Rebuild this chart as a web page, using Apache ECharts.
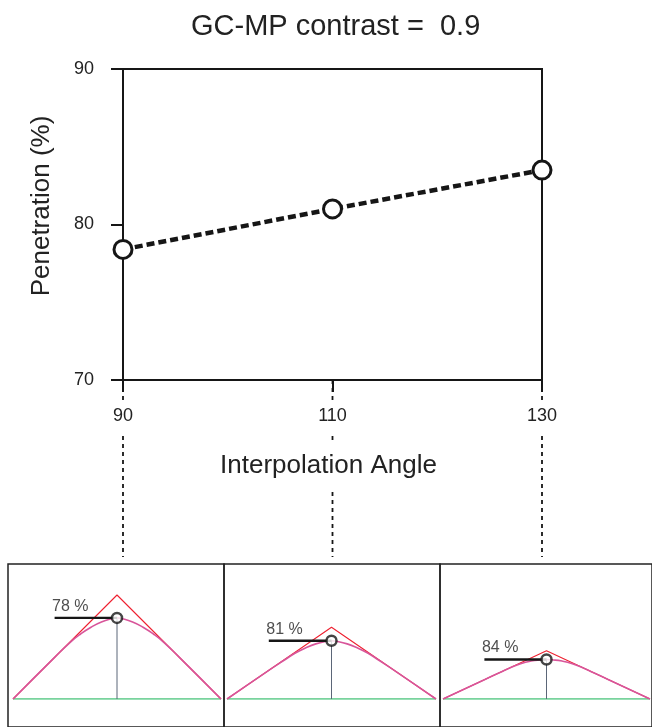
<!DOCTYPE html>
<html>
<head>
<meta charset="utf-8">
<script src="https://cdn.jsdelivr.net/npm/echarts@6/dist/echarts.min.js"></script>
<style>
html,body{margin:0;padding:0;background:#fff;}
#c{width:652px;height:727px;}
</style>
</head>
<body>
<div id="c"></div>
<script>
// ---- data ----
const titleText = 'GC-MP contrast =  0.9';
const angleLabels = ['90', '110', '130'];
const penetration = [78.4, 81.0, 83.5];
const yMin = 70, yMax = 90, yStep = 10;

// bottom panels: kernel profiles (x in half-widths, y in half-width units)
const panelLabels = ['78 %', '81 %', '84 %'];
const triangleHeights = [1.0, 0.69, 0.465];
const curvePeaks = [0.78, 0.56, 0.38];
const curveX = [-1, -0.6, -0.45, -0.35, -0.25, -0.15, -0.05, 0, 0.05, 0.15, 0.25, 0.35, 0.45, 0.6, 1];
const curve1 = [0, 0.40, 0.545, 0.625, 0.69, 0.74, 0.772, 0.78, 0.772, 0.74, 0.69, 0.625, 0.545, 0.40, 0];
const curve2 = [0, 0.276, 0.375, 0.44, 0.49, 0.53, 0.555, 0.56, 0.555, 0.53, 0.49, 0.44, 0.375, 0.276, 0];
const curve3 = [0, 0.186, 0.255, 0.30, 0.34, 0.365, 0.377, 0.38, 0.377, 0.365, 0.34, 0.30, 0.255, 0.186, 0];
const curves = [curve1, curve2, curve3];
const leadStartX = -0.6;

// ---- layout ----
const FONT = 'Liberation Sans, Arial, Helvetica, sans-serif';
const INK = '#161616';
const boxLefts = [8, 224, 440];
const dataLefts = [13, 227, 443];
const dataWidths = [208, 209, 207];
const baseY = 699, unitPx = 104, panelYMax = 1.2;

const grids = [
  { left: 123, top: 69, width: 419, height: 311, show: true, borderColor: INK, borderWidth: 2, backgroundColor: 'transparent' },
  { left: 123, top: 380, width: 419, height: 177 }
];
const xAxes = [
  {
    gridIndex: 0, type: 'category', data: angleLabels, boundaryGap: false, z: 5,
    axisLine: { show: true, lineStyle: { color: INK, width: 2 } },
    axisTick: { show: true, length: 12, alignWithLabel: true, interval: 0, lineStyle: { color: INK, width: 2 } },
    axisLabel: { interval: 0, margin: 20, fontSize: 18, color: '#222', fontFamily: FONT, backgroundColor: '#fff', padding: [7, 3, 7, 3] },
    splitLine: { show: false },
    name: 'Interpolation Angle', nameLocation: 'middle', nameGap: 63,
    nameTextStyle: { fontSize: 26, color: '#222', fontFamily: FONT, backgroundColor: '#fff', padding: [10, 12, 10, 4] }
  },
  { gridIndex: 1, type: 'category', data: angleLabels, boundaryGap: false, show: false }
];
const yAxes = [
  {
    gridIndex: 0, type: 'value', min: yMin, max: yMax, interval: yStep,
    axisLine: { show: true, lineStyle: { color: INK, width: 2 } },
    axisTick: { show: true, length: 12, lineStyle: { color: INK, width: 2 } },
    axisLabel: { margin: 29, fontSize: 18, color: '#222', fontFamily: FONT },
    splitLine: { show: false },
    name: 'Penetration (%)', nameLocation: 'middle', nameGap: 68,
    nameTextStyle: { fontSize: 26, color: '#222', fontFamily: FONT, padding: [0, 0, 0, 37] }
  },
  { gridIndex: 1, type: 'value', min: 0, max: 1, inverse: true, show: false }
];

const series = [];
// dotted guides
angleLabels.forEach(function (a) {
  series.push({
    type: 'line', xAxisIndex: 1, yAxisIndex: 1, z: 1, silent: true,
    data: [[a, 0], [a, 1]], symbol: 'none',
    lineStyle: { color: INK, width: 1.8, type: [4, 4] }
  });
});
// main series
series.push({
  type: 'line', xAxisIndex: 0, yAxisIndex: 0, z: 6,
  data: penetration,
  symbol: 'circle', symbolSize: 18,
  itemStyle: { color: '#fff', borderColor: INK, borderWidth: 3 },
  lineStyle: { color: INK, width: 4.5, type: [8, 4] }
});

for (let i = 0; i < 3; i++) {
  const gBox = grids.length;
  grids.push({ left: boxLefts[i], top: 564, width: 216, height: 200, show: true, borderColor: '#222', borderWidth: 1.5, backgroundColor: 'transparent' });
  xAxes.push({ gridIndex: gBox, type: 'value', show: false });
  yAxes.push({ gridIndex: gBox, type: 'value', show: false });
  const gD = grids.length;
  grids.push({ left: dataLefts[i], top: baseY - panelYMax * unitPx, width: dataWidths[i], height: panelYMax * unitPx });
  xAxes.push({ gridIndex: gD, type: 'value', min: -1, max: 1, show: false });
  yAxes.push({ gridIndex: gD, type: 'value', min: 0, max: panelYMax, show: false });
  const ax = { xAxisIndex: xAxes.length - 1, yAxisIndex: yAxes.length - 1, silent: true };
  const peak = curvePeaks[i];
  // baseline
  series.push(Object.assign({ type: 'line', data: [[-1, 0], [1, 0]], symbol: 'none', z: 2,
    lineStyle: { color: '#4cc47c', width: 1.6 } }, ax));
  // triangle
  series.push(Object.assign({ type: 'line', data: [[-1, 0], [0, triangleHeights[i]], [1, 0]], symbol: 'none', z: 3,
    lineStyle: { color: '#ee2030', width: 1.1 } }, ax));
  // smoothed curve
  series.push(Object.assign({ type: 'line', data: curveX.map(function (x, k) { return [x, curves[i][k]]; }), symbol: 'none', smooth: true, z: 3,
    lineStyle: { color: '#d8559a', width: 1.6 } }, ax));
  // vertical stem
  series.push(Object.assign({ type: 'line', data: [[0, 0], [0, peak]], symbol: 'none', z: 2,
    lineStyle: { color: '#5b6678', width: 1 } }, ax));
  // lead line
  series.push(Object.assign({ type: 'line', data: [[leadStartX, peak], [0, peak]], symbol: 'none', z: 4,
    lineStyle: { color: INK, width: 2.4 } }, ax));
  // label
  series.push(Object.assign({ type: 'scatter', data: [[leadStartX, peak]], symbolSize: 1, z: 5,
    itemStyle: { color: 'rgba(0,0,0,0)' },
    label: { show: true, position: [-2, -19], formatter: panelLabels[i], fontSize: 16, color: '#222', fontFamily: FONT } }, ax));
  // marker
  series.push(Object.assign({ type: 'scatter', data: [[0, peak]], symbol: 'circle', symbolSize: 10, z: 6,
    itemStyle: { color: '#fff', borderColor: INK, borderWidth: 2.5 } }, ax));
}

const chart = echarts.init(document.getElementById('c'), null, { renderer: 'canvas' });
chart.setOption({
  animation: false,
  backgroundColor: '#fff',
  title: { text: titleText, left: 191, top: 12, padding: 0,
    textStyle: { fontSize: 29, fontWeight: 'normal', color: '#222', fontFamily: FONT } },
  grid: grids,
  xAxis: xAxes,
  yAxis: yAxes,
  series: series
});
</script>
</body>
</html>
